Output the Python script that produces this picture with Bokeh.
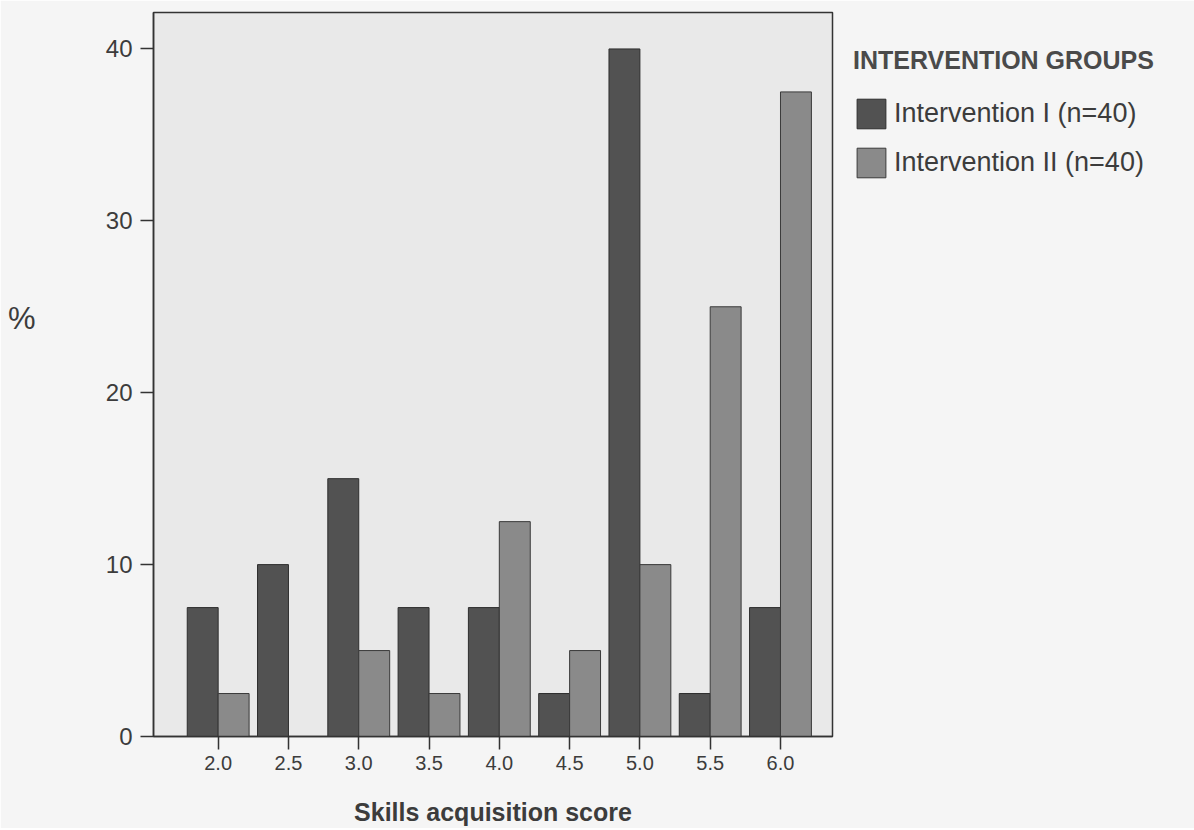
from bokeh.plotting import figure
from bokeh.models import Legend, LegendItem, FixedTicker, LinearAxis, Range1d, ColumnDataSource
from bokeh.embed import file_html
from bokeh.resources import INLINE

# ---- data ----
scores = [2.0, 2.5, 3.0, 3.5, 4.0, 4.5, 5.0, 5.5, 6.0]
score_labels = ["2.0", "2.5", "3.0", "3.5", "4.0", "4.5", "5.0", "5.5", "6.0"]
intervention_1 = [7.5, 10, 15, 7.5, 7.5, 2.5, 40, 2.5, 7.5]
intervention_2 = [2.5, 0, 5, 2.5, 12.5, 5, 10, 25, 37.5]
y_ticks = [0, 10, 20, 30, 40]
series_names = ["Intervention I (n=40)", "Intervention II (n=40)"]
legend_title = "INTERVENTION GROUPS"
y_title = "%"

FONT = "Liberation Sans"
TXT = "#3c3c3c"
DARK = "#525252"
LIGHT = "#8a8a8a"

src = ColumnDataSource(dict(
    x1=[s - 0.11 for s in scores],
    x2=[s + 0.11 for s in scores],
    v1=intervention_1,
    v2=intervention_2,
))

p = figure(frame_width=679, frame_height=724, output_backend="svg", toolbar_location=None,
           x_range=Range1d(1.54, 6.37), y_range=Range1d(0, 42.12),
           min_border_left=153, min_border_right=0, min_border_top=12, min_border_bottom=88)

p.background_fill_color = "#e9e9e9"
p.border_fill_color = "#f5f5f5"
p.outline_line_color = "#333333"
p.outline_line_width = 1.5
p.grid.visible = False

r1 = p.vbar(x="x1", top="v1", width=0.22, bottom=0, source=src,
            fill_color=DARK, line_color="#2e2e2e", line_width=1)
r2 = p.vbar(x="x2", top="v2", width=0.22, bottom=0, source=src,
            fill_color=LIGHT, line_color="#3a3a3a", line_width=1)

# x axis
p.xaxis.ticker = FixedTicker(ticks=scores)
p.xaxis.major_label_overrides = {s: l for s, l in zip(scores, score_labels)}
p.xaxis.major_tick_out = 13
p.xaxis.major_tick_in = 0
p.xaxis.minor_tick_line_color = None
p.xaxis.axis_line_color = "#333333"
p.xaxis.axis_line_width = 1.5
p.xaxis.major_tick_line_color = "#333333"
p.xaxis.major_tick_line_width = 1.5
p.xaxis.major_label_text_font = FONT
p.xaxis.major_label_text_font_size = "20px"
p.xaxis.major_label_text_color = TXT
p.xaxis.major_label_standoff = 6
p.xaxis.axis_label = "Skills acquisition score"
p.xaxis.axis_label_text_font = FONT
p.xaxis.axis_label_text_font_size = "25px"
p.xaxis.axis_label_text_font_style = "bold"
p.xaxis.axis_label_text_color = TXT
p.xaxis.axis_label_standoff = 25

# y axis
p.yaxis.ticker = FixedTicker(ticks=y_ticks)
p.yaxis.major_tick_out = 13
p.yaxis.major_tick_in = 0
p.yaxis.minor_tick_line_color = None
p.yaxis.axis_line_color = "#333333"
p.yaxis.axis_line_width = 1.5
p.yaxis.major_tick_line_color = "#333333"
p.yaxis.major_tick_line_width = 1.5
p.yaxis.major_label_text_font = FONT
p.yaxis.major_label_text_font_size = "24px"
p.yaxis.major_label_text_color = TXT
p.yaxis.major_label_standoff = 8

# "%" title drawn as a second, outer left axis with a single label
pct_pos = 24.3
pct_axis = LinearAxis(ticker=FixedTicker(ticks=[pct_pos]),
                      major_label_overrides={pct_pos: y_title})
pct_axis.axis_line_color = None
pct_axis.major_tick_line_color = None
pct_axis.minor_tick_line_color = None
pct_axis.major_tick_out = 0
pct_axis.major_label_text_font = FONT
pct_axis.major_label_text_font_size = "31px"
pct_axis.major_label_text_color = TXT
pct_axis.major_label_standoff = 67
p.add_layout(pct_axis, "left")

legend = Legend(items=[LegendItem(label=series_names[0], renderers=[r1]),
                       LegendItem(label=series_names[1], renderers=[r2])],
                location=(-5, 529), title=legend_title)
legend.title_text_font = FONT
legend.title_text_font_size = "25px"
legend.title_text_font_style = "bold"
legend.title_text_color = "#4a4a4a"
legend.title_standoff = 20
legend.label_text_font = FONT
legend.label_text_font_size = "27px"
legend.label_text_color = TXT
legend.glyph_width = 36
legend.glyph_height = 37
legend.label_height = 30
legend.spacing = 12
legend.label_standoff = 5
legend.margin = 0
legend.padding = 26
legend.border_line_alpha = 0
legend.background_fill_alpha = 0
p.add_layout(legend, "right")

open("out.html", "w").write(file_html(p, INLINE))
